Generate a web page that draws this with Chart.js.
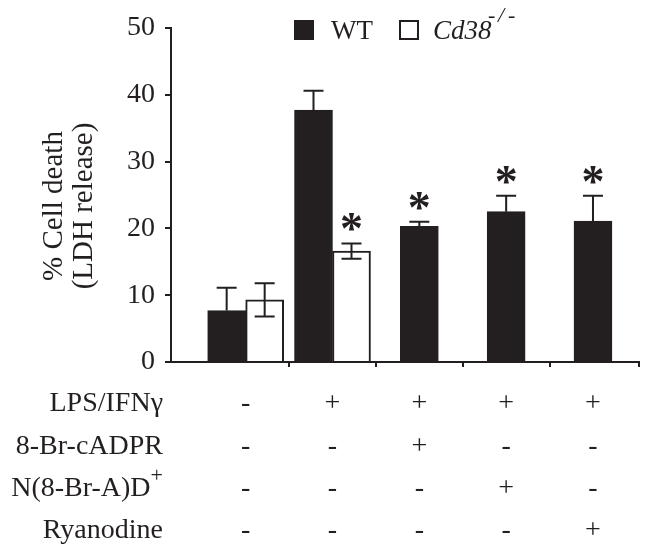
<!DOCTYPE html>
<html>
<head>
<meta charset="utf-8">
<script src="https://cdn.jsdelivr.net/npm/chart.js@4.4.1/dist/chart.umd.min.js"></script>
<style>
  html, body { margin: 0; padding: 0; background: #fff; }
  canvas { display: block; }
</style>
</head>
<body>
<canvas id="chart" width="649" height="554"></canvas>
<script>
// group positions (treatment columns) and bar values, % cell death
const groups = [1, 2, 3, 4, 5];
const wtValues = [7.7, 37.7, 20.3, 22.5, 21.1];
const wtErrors = [3.4, 2.9, 0.7, 2.4, 3.8];
const koValues = [9.3, 16.6, null, null, null];
const koErrors = [2.5, 1.15, null, null, null];
const wtSignificant = [false, false, true, true, true];
const koSignificant = [false, true, false, false, false];

const seriesLabels = ['WT', 'Cd38'];
const koSuperscript = '-/-';
const yTitle = ['% Cell death', '(LDH release)'];
const yTicks = [0, 10, 20, 30, 40, 50];

// treatment table under the axis
const treatmentNames = ['LPS/IFNγ', '8-Br-cADPR', 'N(8-Br-A)D', 'Ryanodine'];
const treatmentSup = ['', '', '+', ''];
const lpsRow = ['-', '+', '+', '+', '+'];
const brCadprRow = ['-', '-', '+', '-', '-'];
const nbradRow = ['-', '-', '-', '+', '-'];
const ryanodineRow = ['-', '-', '-', '-', '+'];
const treatmentRows = [lpsRow, brCadprRow, nbradRow, ryanodineRow];

const INK = '#231f20';
const SERIF = '"Liberation Serif", "Times New Roman", serif';

Chart.defaults.font.family = SERIF;
Chart.defaults.color = INK;

const toPoints = vals => groups.map((g, i) => ({ x: g, y: vals[i] }));

// error bars + asterisks
const errorBars = {
  id: 'errorBars',
  afterDatasetsDraw(chart) {
    const ctx = chart.ctx;
    const yScale = chart.scales.y;
    const sets = [
      { vals: wtValues, errs: wtErrors, sig: wtSignificant, both: false },
      { vals: koValues, errs: koErrors, sig: koSignificant, both: true }
    ];
    ctx.save();
    ctx.strokeStyle = INK;
    ctx.fillStyle = INK;
    ctx.lineWidth = 2;
    sets.forEach((s, di) => {
      const meta = chart.getDatasetMeta(di);
      meta.data.forEach((bar, i) => {
        if (s.vals[i] == null) return;
        const x = bar.x;
        const yTop = yScale.getPixelForValue(s.vals[i] + s.errs[i]);
        const yLow = s.both ? yScale.getPixelForValue(s.vals[i] - s.errs[i]) : yScale.getPixelForValue(s.vals[i]);
        const cap = 10;
        ctx.beginPath();
        ctx.moveTo(x, yLow); ctx.lineTo(x, yTop);
        ctx.moveTo(x - cap, yTop); ctx.lineTo(x + cap, yTop);
        if (s.both) { ctx.moveTo(x - cap, yLow); ctx.lineTo(x + cap, yLow); }
        ctx.stroke();
        if (s.sig[i]) {
          ctx.font = 'bold 46px ' + SERIF;
          ctx.textAlign = 'center';
          ctx.textBaseline = 'alphabetic';
          const m = ctx.measureText('*');
          const cy = yTop - 21;
          ctx.fillText('*', x, cy + (m.actualBoundingBoxAscent - m.actualBoundingBoxDescent) / 2);
        }
      });
    });
    ctx.restore();
  }
};

// rotated two-line y title
const yTitleDraw = {
  id: 'yTitleDraw',
  afterDraw(chart) {
    const ctx = chart.ctx;
    ctx.save();
    ctx.fillStyle = INK;
    ctx.font = '29px ' + SERIF;
    ctx.textAlign = 'center';
    ctx.textBaseline = 'middle';
    yTitle.forEach((line, i) => {
      ctx.save();
      ctx.translate(54 + i * 30, 206);
      ctx.rotate(-Math.PI / 2);
      ctx.fillText(line, 0, 0);
      ctx.restore();
    });
    ctx.restore();
  }
};

// legend with italic Cd38 and superscript
const legendBox = {
  id: 'legendBox',
  afterDraw(chart) {
    const ctx = chart.ctx;
    ctx.save();
    ctx.fillStyle = INK;
    ctx.strokeStyle = INK;
    ctx.lineWidth = 2;
    ctx.fillRect(294, 20, 20, 20);
    ctx.textBaseline = 'alphabetic';
    ctx.textAlign = 'left';
    ctx.font = '27px ' + SERIF;
    ctx.fillText(seriesLabels[0], 331, 39);
    ctx.strokeRect(400, 21, 18, 18);
    ctx.font = 'italic 27px ' + SERIF;
    ctx.fillText(seriesLabels[1], 433, 39);
    ctx.font = 'italic 22px ' + SERIF;
    const chars = koSuperscript.split('');
    chars.forEach((c, i) => ctx.fillText(c, 488 + i * 10, 22));
    ctx.restore();
  }
};

// +/- treatment table
const treatmentTable = {
  id: 'treatmentTable',
  afterDraw(chart) {
    const ctx = chart.ctx;
    const xScale = chart.scales.x;
    const base = chart.chartArea.bottom;
    ctx.save();
    ctx.fillStyle = INK;
    ctx.textBaseline = 'middle';
    treatmentNames.forEach((name, r) => {
      const y = base + 42 + r * 42.3;
      const right = 163;
      ctx.textAlign = 'right';
      let supW = 0;
      if (treatmentSup[r]) {
        ctx.font = '22px ' + SERIF;
        supW = ctx.measureText(treatmentSup[r]).width;
        ctx.fillText(treatmentSup[r], right, y - 12);
      }
      ctx.font = '28px ' + SERIF;
      ctx.fillText(name, right - supW, y);
      ctx.textAlign = 'center';
      treatmentRows[r].forEach((sym, i) => {
        ctx.fillText(sym, xScale.getPixelForValue(groups[i]), y);
      });
    });
    ctx.restore();
  }
};

new Chart(document.getElementById('chart'), {
  type: 'bar',
  data: {
    datasets: [
      { label: seriesLabels[0], data: toPoints(wtValues), backgroundColor: INK, borderColor: INK, borderWidth: 2 },
      { label: seriesLabels[1], data: toPoints(koValues), backgroundColor: '#ffffff', borderColor: INK, borderWidth: 2 }
    ]
  },
  options: {
    responsive: false,
    animation: false,
    devicePixelRatio: 1,
    skipNull: true,
    barThickness: 38,
    layout: { padding: { top: 28, right: 10, left: 0, bottom: 0 } },
    plugins: { legend: { display: false }, tooltip: { enabled: false } },
    scales: {
      x: {
        type: 'linear',
        offset: false,
        min: 0.14,
        max: 5.53,
        afterBuildTicks: s => { s.ticks = [1.5, 2.5, 3.5, 4.5, 5.53].map(v => ({ value: v })); },
        afterFit: s => { s.height = 192; },
        ticks: { display: false },
        grid: { offset: false, drawOnChartArea: false, drawTicks: true, tickLength: 5, color: INK, lineWidth: 2 },
        border: { display: true, color: INK, width: 2 }
      },
      y: {
        min: 0,
        max: 50,
        afterBuildTicks: s => { s.ticks = yTicks.map(v => ({ value: v })); },
        afterFit: s => { s.width = 171; },
        ticks: { padding: 10, font: { size: 28 }, color: INK },
        grid: { drawOnChartArea: false, drawTicks: true, tickLength: 6, color: INK, lineWidth: 2 },
        border: { display: true, color: INK, width: 2 }
      }
    }
  },
  plugins: [errorBars, yTitleDraw, legendBox, treatmentTable]
});
</script>
</body>
</html>
